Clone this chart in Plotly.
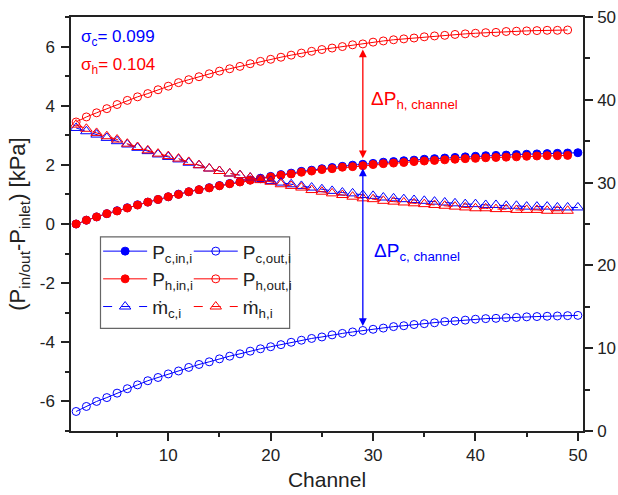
import plotly.graph_objects as go

FONT = "Liberation Sans, Arial, sans-serif"
BLUE = "rgb(0,0,255)"
RED = "rgb(255,0,0)"

ch_c = list(range(1, 51))
ch_h = list(range(1, 50))

p_c_in = [0.00, 0.13, 0.24, 0.35, 0.45, 0.55, 0.65, 0.74, 0.83, 0.92,
          1.01, 1.09, 1.16, 1.23, 1.30, 1.37, 1.43, 1.49, 1.55, 1.61,
          1.67, 1.72, 1.78, 1.82, 1.87, 1.91, 1.95, 1.99, 2.02, 2.05,
          2.09, 2.11, 2.14, 2.16, 2.19, 2.21, 2.23, 2.25, 2.27, 2.29,
          2.31, 2.32, 2.33, 2.35, 2.36, 2.37, 2.38, 2.39, 2.40, 2.41]
p_c_out = [-6.34, -6.17, -6.00, -5.87, -5.72, -5.57, -5.44, -5.30, -5.19, -5.07,
           -4.97, -4.85, -4.75, -4.66, -4.56, -4.47, -4.39, -4.30, -4.22, -4.15,
           -4.08, -4.00, -3.93, -3.87, -3.82, -3.75, -3.70, -3.65, -3.60, -3.56,
           -3.52, -3.47, -3.44, -3.40, -3.37, -3.34, -3.30, -3.28, -3.25, -3.22,
           -3.20, -3.19, -3.17, -3.16, -3.14, -3.13, -3.12, -3.11, -3.10, -3.09]
p_h_in = [0.00, 0.13, 0.24, 0.35, 0.44, 0.54, 0.64, 0.74, 0.83, 0.92,
          1.00, 1.09, 1.16, 1.22, 1.29, 1.36, 1.42, 1.48, 1.53, 1.59,
          1.65, 1.69, 1.75, 1.79, 1.84, 1.87, 1.92, 1.94, 1.97, 2.01,
          2.04, 2.06, 2.08, 2.11, 2.13, 2.15, 2.17, 2.19, 2.21, 2.22,
          2.24, 2.25, 2.26, 2.27, 2.29, 2.30, 2.31, 2.31, 2.32]
p_h_out = [3.45, 3.62, 3.76, 3.90, 4.04, 4.18, 4.30, 4.41, 4.54, 4.66,
           4.78, 4.88, 4.98, 5.08, 5.17, 5.25, 5.33, 5.42, 5.50, 5.57,
           5.64, 5.71, 5.78, 5.84, 5.90, 5.95, 6.00, 6.06, 6.09, 6.15,
           6.19, 6.23, 6.26, 6.29, 6.33, 6.36, 6.38, 6.41, 6.43, 6.45,
           6.47, 6.48, 6.51, 6.52, 6.53, 6.54, 6.55, 6.55, 6.56]
m_c = [36.6, 36.2, 35.8, 35.4, 35.0, 34.6, 34.2, 33.8, 33.4, 33.1,
       32.8, 32.4, 32.1, 31.7, 31.4, 31.1, 30.9, 30.6, 30.4, 30.2,
       30.0, 29.8, 29.6, 29.4, 29.2, 29.0, 28.8, 28.7, 28.5, 28.4,
       28.2, 28.1, 28.0, 27.9, 27.8, 27.7, 27.6, 27.5, 27.4, 27.4,
       27.3, 27.3, 27.2, 27.2, 27.1, 27.1, 27.1, 27.0, 27.0, 27.0]
m_h = [37.0, 36.5, 36.0, 35.6, 35.2, 34.7, 34.3, 33.9, 33.5, 33.2,
       32.9, 32.5, 32.1, 31.7, 31.4, 31.1, 30.9, 30.6, 30.3, 30.1,
       29.8, 29.6, 29.4, 29.1, 28.9, 28.7, 28.5, 28.3, 28.1, 28.0,
       27.8, 27.7, 27.6, 27.5, 27.4, 27.3, 27.2, 27.1, 27.0, 26.9,
       26.9, 26.8, 26.8, 26.7, 26.7, 26.7, 26.6, 26.6, 26.6]

x_ticks = [10, 20, 30, 40, 50]
y_ticks = [-6, -4, -2, 0, 2, 4, 6]
y_ticktext = ["-6", "-4", "-2", "0", "2", "4", "6"]
y2_ticks = [0, 10, 20, 30, 40, 50]

arrow_channel = 29
dp_h_span = [5.95, 2.22]
dp_c_span = [1.93, -3.45]

fig = go.Figure()

def add(x, y, name, color, filled, symbol, dash, axis, legend, rank, size):
    fig.add_trace(go.Scatter(
        x=x, y=y, name=name, mode="lines+markers", yaxis=axis,
        legend=legend, legendrank=rank,
        line=dict(color=color, width=1, dash=dash),
        marker=dict(symbol=symbol, size=size,
                    color=color if filled else "rgba(255,255,255,0)",
                    line=dict(color=color, width=1)),
    ))

add(ch_c, p_c_out, "P<sub>c,out,i</sub>", BLUE, False, "circle", "solid", "y", "legend2", 1, 8)
add(ch_c, p_c_in, "P<sub>c,in,i</sub>", BLUE, True, "circle", "solid", "y", "legend", 1, 8)
add(ch_h, p_h_out, "P<sub>h,out,i</sub>", RED, False, "circle", "solid", "y", "legend2", 2, 8)
add(ch_h, p_h_in, "P<sub>h,in,i</sub>", RED, True, "circle", "solid", "y", "legend", 2, 8)
add(ch_c, m_c, "ṁ<sub>c,i</sub>", BLUE, False, "triangle-up", "dash", "y2", "legend", 3, 10)
add(ch_h, m_h, "ṁ<sub>h,i</sub>", RED, False, "triangle-up", "dash", "y2", "legend2", 3, 10)

axis_common = dict(
    showline=True, linecolor="#222", linewidth=1.5,
    ticks="outside", ticklen=8, tickwidth=1.5, tickcolor="#222",
    showgrid=False, zeroline=False, automargin=False,
    tickfont=dict(family=FONT, size=17, color="#222"),
)

fig.update_layout(
    width=618, height=495,
    margin=dict(l=71, r=35, t=17, b=64),
    paper_bgcolor="white", plot_bgcolor="white",
    font=dict(family=FONT, color="#222"),
    xaxis=dict(range=[0.5, 50.5], tickvals=x_ticks, mirror=True,
               minor=dict(dtick=5, tick0=0, ticks="outside", ticklen=4, tickcolor="#222", tickwidth=1.5),
               title=dict(text="Channel", font=dict(family=FONT, size=21, color="#222"), standoff=8),
               **axis_common),
    yaxis=dict(range=[-7, 7], tickvals=y_ticks, ticktext=y_ticktext, ticklabelstandoff=3,
               minor=dict(dtick=1, tick0=0, ticks="outside", ticklen=4, tickcolor="#222", tickwidth=1.5),
               title=dict(text="(P<sub>in/out</sub>-P<sub>inlet</sub>) [kPa]",
                          font=dict(family=FONT, size=22, color="#222"), standoff=8),
               **axis_common),
    yaxis2=dict(range=[0, 50], tickvals=y2_ticks, overlaying="y", side="right",
                ticklabelstandoff=1,
                minor=dict(dtick=5, tick0=0, ticks="outside", ticklen=5, tickcolor="#222", tickwidth=1.5),
                **axis_common),
    legend=dict(x=0.053, y=0.48, xanchor="left", yanchor="top",
                bgcolor="rgba(0,0,0,0)", borderwidth=0, itemwidth=44,
                font=dict(family=FONT, size=19, color="#222"),
                itemclick=False),
    legend2=dict(x=0.23, y=0.48, xanchor="left", yanchor="top",
                 bgcolor="rgba(0,0,0,0)", borderwidth=0, itemwidth=44,
                 font=dict(family=FONT, size=19, color="#222")),
    showlegend=True,
)

fig.add_shape(type="rect", xref="paper", yref="paper",
              x0=0.0576, x1=0.427, y0=0.248, y1=0.469,
              line=dict(color="#666", width=1.2), fillcolor="rgba(0,0,0,0)")

for span, color in ((dp_h_span, RED), (dp_c_span, BLUE)):
    fig.add_annotation(x=arrow_channel, y=span[1], ax=arrow_channel, ay=span[0],
                       xref="x", yref="y", axref="x", ayref="y",
                       showarrow=True, arrowhead=2, startarrowhead=2,
                       arrowside="end+start", arrowsize=1.2, arrowwidth=1.3,
                       arrowcolor=color, text="")

fig.add_annotation(x=29.6, y=4.2, xref="x", yref="y", xanchor="left", yanchor="middle",
                   text="ΔP<sub>h, channel</sub>", showarrow=False,
                   font=dict(family=FONT, size=19, color=RED))
fig.add_annotation(x=29.9, y=-0.95, xref="x", yref="y", xanchor="left", yanchor="middle",
                   text="ΔP<sub>c, channel</sub>", showarrow=False,
                   font=dict(family=FONT, size=19, color=BLUE))
fig.add_annotation(x=1.3, y=6.3, xref="x", yref="y", xanchor="left", yanchor="middle",
                   text="σ<sub>c</sub>= 0.099", showarrow=False,
                   font=dict(family=FONT, size=17, color=BLUE))
fig.add_annotation(x=1.3, y=5.36, xref="x", yref="y", xanchor="left", yanchor="middle",
                   text="σ<sub>h</sub>= 0.104", showarrow=False,
                   font=dict(family=FONT, size=17, color=RED))

fig.write_html("out.html", config={"displayModeBar": False},
               post_script="document.body.style.margin='0px';document.body.style.overflow='hidden';")
